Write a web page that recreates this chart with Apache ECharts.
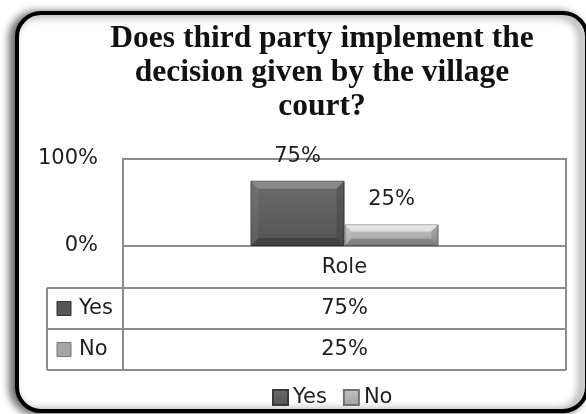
<!DOCTYPE html>
<html>
<head>
<meta charset="utf-8">
<script src="https://cdn.jsdelivr.net/npm/echarts@6/dist/echarts.min.js"></script>
<style>
html,body{margin:0;padding:0;background:#fff;}
#chart{width:586px;height:414px;}
</style>
</head>
<body>
<div id="chart"></div>
<script>
// ---- data ----
const titleText = 'Does third party implement the\ndecision given by the village\ncourt?';
const categories = ['Role'];
const seriesNames = ['Yes', 'No'];
const yesValues = [75];
const noValues = [25];
const yMin = 0;
const yMax = 100;
const yInterval = 100;

// ---- styles ----
const FONT = 'DejaVu Sans';
const FS = 21;
const TXT = '#1e1e1e';
const LINE = '#8c8c8c';
const yesColor = {type:'linear',x:0,y:0,x2:0,y2:1,colorStops:[{offset:0,color:'#6a6a6a'},{offset:1,color:'#555555'}]};
const noColor = {type:'linear',x:0,y:0,x2:0,y2:1,colorStops:[{offset:0,color:'#c4c4c4'},{offset:1,color:'#a0a0a0'}]};
const yesSolid = '#575757';
const noSolid = '#a6a6a6';
const BAR_W = 94;

// layout
const G = {left:123, right:566, top:159, bottom:246};
const rows = [246, 288, 329, 370];
const tableLeft = 47;
const midX = (G.left + G.right) / 2;

const chart = echarts.init(document.getElementById('chart'));

const graphics = [
  {type:'rect', z:-10, shape:{x:17, y:13, width:570, height:398, r:24},
   style:{fill:'#fff', stroke:'#000', lineWidth:4, shadowBlur:9, shadowOffsetX:-5, shadowOffsetY:1, shadowColor:'rgba(0,0,0,0.6)'}},
  {type:'text', x:322, y:22, z:5, style:{text:titleText, textAlign:'center', textVerticalAlign:'top',
     font:'bold 31.5px "Liberation Serif"', lineHeight:34, fill:'#111'}},
  // table lines
  {type:'line', shape:{x1:G.left, y1:rows[0], x2:G.left, y2:rows[3]}, style:{stroke:LINE, lineWidth:2}},
  {type:'line', shape:{x1:G.right, y1:rows[0], x2:G.right, y2:rows[3]}, style:{stroke:LINE, lineWidth:2}},
  {type:'line', shape:{x1:tableLeft, y1:rows[1], x2:tableLeft, y2:rows[3]}, style:{stroke:LINE, lineWidth:2}},
  {type:'line', shape:{x1:tableLeft, y1:rows[1], x2:G.right, y2:rows[1]}, style:{stroke:LINE, lineWidth:2}},
  {type:'line', shape:{x1:tableLeft, y1:rows[2], x2:G.right, y2:rows[2]}, style:{stroke:LINE, lineWidth:2}},
  {type:'line', shape:{x1:tableLeft, y1:rows[3], x2:G.right, y2:rows[3]}, style:{stroke:LINE, lineWidth:2}}
];

const tableVals = [yesValues[0], noValues[0]];
const keyColors = [yesSolid, noSolid];
seriesNames.forEach((name, i) => {
  const cy = (rows[i+1] + rows[i+2]) / 2;
  graphics.push({type:'rect', shape:{x:57, y:cy-7, width:14, height:14},
    style:{fill:keyColors[i], stroke:i===0?'#333':'#777', lineWidth:1}});
  graphics.push({type:'text', x:79, y:cy, style:{text:name, textVerticalAlign:'middle', font:FS+'px "'+FONT+'"', fill:TXT}});
  graphics.push({type:'text', x:midX, y:cy, style:{text:tableVals[i] + '%', textAlign:'center', textVerticalAlign:'middle', font:FS+'px "'+FONT+'"', fill:TXT}});
});

// bevel overlay drawn from the same values through the axes
function bevel(offsetSign, light) {
  return function (params, api) {
    const top = api.coord([api.value(0), api.value(1)]);
    const base = api.coord([api.value(0), 0]);
    const x = offsetSign < 0 ? top[0] - BAR_W : top[0];
    const w = BAR_W, y = top[1], h = base[1] - top[1];
    const b = Math.min(8, h / 3);
    return {type:'group', children:[
      {type:'polygon', shape:{points:[[x,y],[x+w,y],[x+w-b,y+b],[x+b,y+b]]}, style:{fill: light ? 'rgba(255,255,255,0.55)' : 'rgba(255,255,255,0.22)'}},
      {type:'polygon', shape:{points:[[x,y],[x+b,y+b],[x+b,y+h-b],[x,y+h]]}, style:{fill:'rgba(255,255,255,0.06)'}},
      {type:'polygon', shape:{points:[[x+w,y],[x+w-b,y+b],[x+w-b,y+h-b],[x+w,y+h]]}, style:{fill:'rgba(0,0,0,0.14)'}},
      {type:'polygon', shape:{points:[[x,y+h],[x+b,y+h-b],[x+w-b,y+h-b],[x+w,y+h]]}, style:{fill:'rgba(0,0,0,0.22)'}}
    ]};
  };
}

chart.setOption({
  animation:false,
  backgroundColor:'#fff',
  textStyle:{fontFamily:FONT},
  grid:{left:G.left, right:586-G.right, top:G.top, bottom:414-G.bottom, show:true, borderColor:LINE, borderWidth:2, backgroundColor:'transparent'},
  legend:{data:seriesNames, left:267, top:382, icon:'rect', itemWidth:15, itemHeight:15, itemGap:16,
    textStyle:{fontFamily:FONT, fontSize:FS, color:TXT}},
  xAxis:{type:'category', data:categories, axisLine:{show:false}, axisTick:{show:false},
    axisLabel:{margin:11, fontFamily:FONT, fontSize:FS, color:TXT}},
  yAxis:{type:'value', min:yMin, max:yMax, interval:yInterval, splitLine:{show:false}, axisLine:{show:false}, axisTick:{show:false},
    axisLabel:{margin:25, fontFamily:FONT, fontSize:FS, color:TXT, formatter:'{value}%'}},
  series:[
    {name:seriesNames[0], type:'bar', data:yesValues, barWidth:BAR_W, barGap:'0%',
     itemStyle:{color:yesColor, borderColor:'#3a3a3a', borderWidth:1},
     label:{show:true, position:'top', distance:14, formatter:'{c}%', fontFamily:FONT, fontSize:FS, color:TXT}},
    {name:seriesNames[1], type:'bar', data:noValues, barWidth:BAR_W, barGap:'0%',
     itemStyle:{color:noColor, borderColor:'#707070', borderWidth:1},
     label:{show:true, position:'top', distance:14, formatter:'{c}%', fontFamily:FONT, fontSize:FS, color:TXT}},
    {name:'yesBevel', type:'custom', silent:true, z:3, renderItem:bevel(-1, false),
     data:yesValues.map((v, i) => [i, v])},
    {name:'noBevel', type:'custom', silent:true, z:3, renderItem:bevel(1, true),
     data:noValues.map((v, i) => [i, v])}
  ],
  graphic:graphics
});
</script>
</body>
</html>
